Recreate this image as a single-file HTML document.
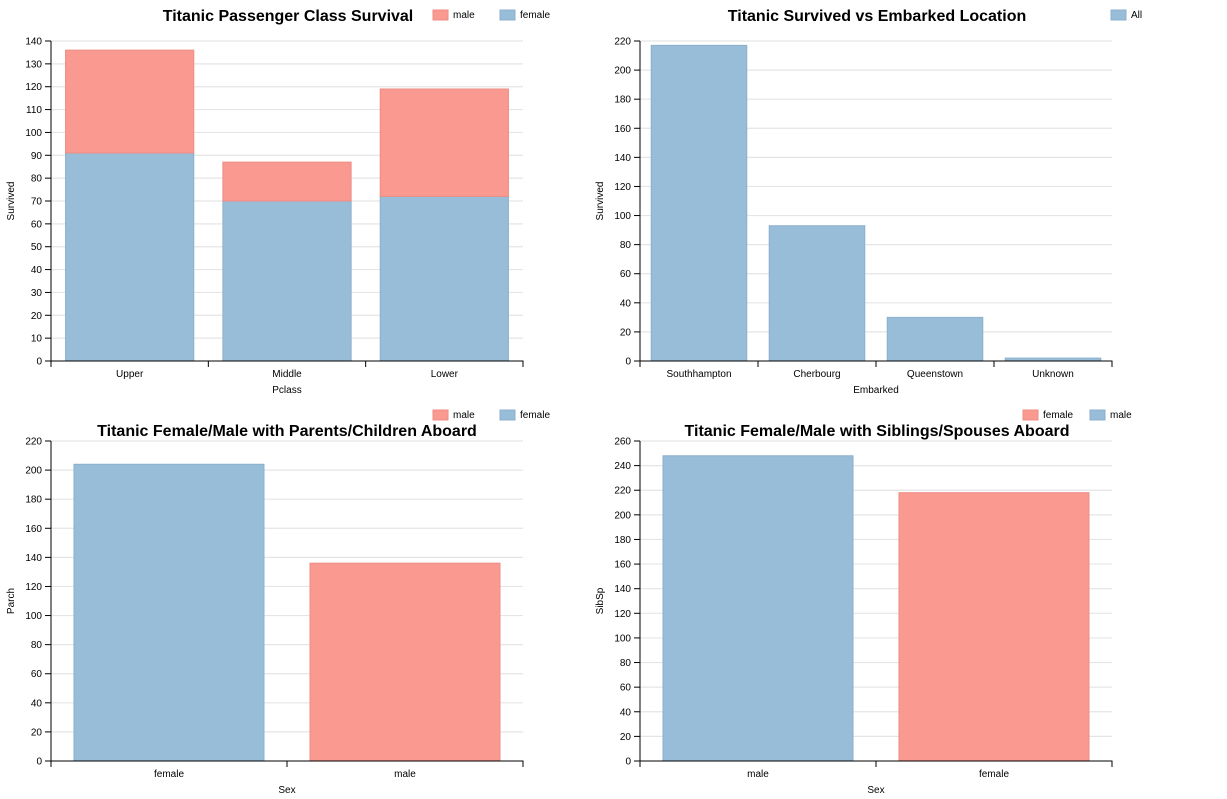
<!DOCTYPE html>
<html><head><meta charset="utf-8">
<style>
html,body{margin:0;padding:0;background:#fff;width:1227px;height:799px;overflow:hidden}
svg{font-family:"Liberation Sans",Arial,sans-serif;display:block}
.title{font-size:16px;font-weight:bold;fill:#000}
.axt{font-size:10px;fill:#000}
.leg{font-size:10px;fill:#000}
.grid{stroke:#e5e5e5;stroke-width:1.2}
.ax{stroke:#000;stroke-width:1;fill:none}
</style></head>
<body>
<svg id="svg" width="1227" height="799"></svg>
<script>
// Chart 1: Passenger class survival (stacked)
const c1Categories = ["Upper","Middle","Lower"];
const c1Female = [91,70,72];
const c1Male = [45,17,47];
const c1Ticks = [0,10,20,30,40,50,60,70,80,90,100,110,120,130,140];
// Chart 2: Embarked
const c2Categories = ["Southhampton","Cherbourg","Queenstown","Unknown"];
const c2Values = [217,93,30,2];
const c2Ticks = [0,20,40,60,80,100,120,140,160,180,200,220];
// Chart 3: Parch
const c3Categories = ["female","male"];
const c3Values = [204,136];
const c3Ticks = [0,20,40,60,80,100,120,140,160,180,200,220];
// Chart 4: SibSp
const c4Categories = ["male","female"];
const c4Values = [248,218];
const c4Ticks = [0,20,40,60,80,100,120,140,160,180,200,220,240,260];

const BLUE="#98bdd8", BLUES="#8cb0cc";
const PINK="#fa998f", PINKS="#ec8d84";
const NS="http://www.w3.org/2000/svg";
const svg=document.getElementById('svg');
function mk(tag,attrs,parent,text){const e=document.createElementNS(NS,tag);for(const k in attrs)e.setAttribute(k,attrs[k]);if(text!==undefined)e.textContent=text;parent.appendChild(e);return e;}

function chart(o){
  const g=mk('g',{},svg);
  
  
  const x0=o.x0,x1=o.x0+472,y0=o.y0,y1=o.y0+320;
  const ymax=o.ticks[o.ticks.length-1];
  const yS=v=>y1-v/ymax*(y1-y0);
  const step=(x1-x0)/o.cats.length;
  const bw=step*o.bwf, off=(step-bw)/2;
  o.ticks.forEach(t=>{
    if(t>0){const gl=mk('line',{x1:x0,x2:x1,y1:yS(t),y2:yS(t),class:'grid'},g);
    
    }
    mk('line',{x1:x0-6,x2:x0,y1:yS(t),y2:yS(t),stroke:'#000'},g);
    const tl=mk('text',{x:x0-9,y:yS(t)+3.5,'text-anchor':'end',class:'axt'},g,t);
    
    
  });
  o.series.forEach(s=>{
    o.cats.forEach((c,i)=>{
      const base=s.base?s.base[i]:0, v=s.vals[i];
      const pink=s.pinkIdx===i;
      const r=mk('rect',{x:x0+i*step+off,y:yS(base+v),width:bw,height:yS(base)-yS(base+v),fill:pink?PINK:s.fill,stroke:pink?PINKS:s.stroke,'stroke-width':1},g);
      
      
    });
  });
  mk('path',{d:`M${x0},${y0}V${y1}`,class:'ax'},g);
  mk('path',{d:`M${x0},${y1+6}V${y1}H${x1}V${y1+6}`,class:'ax'},g);
  o.cats.forEach((c,i)=>{
    if(i>0) mk('line',{x1:x0+i*step,x2:x0+i*step,y1:y1,y2:y1+6,stroke:'#000'},g);
    const xl=mk('text',{x:x0+i*step+step/2,y:y1+16,'text-anchor':'middle',class:'axt'},g,c);
    
    
  });
  const xt=mk('text',{x:(x0+x1)/2,y:y1+32,'text-anchor':'middle',class:'axt'},g,o.xlabel);
  
  
  const yt=mk('text',{x:0,y:0,'text-anchor':'middle',class:'axt',transform:`translate(${x0-37},${(y0+y1)/2}) rotate(-90)`},g,o.ylabel);
  
  
  const ti=mk('text',{x:o.tx,y:o.ty,'text-anchor':'middle',class:'title'},g,o.title);
  
  
  o.legend.forEach(l=>{
    const r=mk('rect',{x:l.x,y:o.ly-5,width:15,height:10,fill:l.fill,stroke:l.stroke},g);
    
    
    const t=mk('text',{x:l.x+20,y:o.ly+3,class:'leg',fill:l.tc||'#000'},g,l.label);
    
    
  });
}

chart({name:'class-survival-chart',x0:51,y0:41,cats:c1Categories,ticks:c1Ticks,bwf:0.815,
  series:[{key:'female',vals:c1Female,fill:BLUE,stroke:BLUES},{key:'male',vals:c1Male,base:c1Female,fill:PINK,stroke:PINKS}],
  xlabel:'Pclass',ylabel:'Survived',title:'Titanic Passenger Class Survival',tx:288,ty:21,ly:15,
  legend:[{x:433,label:'male',fill:PINK,stroke:PINKS},{x:500,label:'female',fill:BLUE,stroke:BLUES}]});
chart({name:'embarked-chart',x0:640,y0:41,cats:c2Categories,ticks:c2Ticks,bwf:0.81,
  series:[{key:'all',vals:c2Values,fill:BLUE,stroke:BLUES}],
  xlabel:'Embarked',ylabel:'Survived',title:'Titanic Survived vs Embarked Location',tx:877,ty:21,ly:15,
  legend:[{x:1111,label:'All',fill:BLUE,stroke:BLUES,tc:'#1f6fb5'}]});
chart({name:'parch-chart',x0:51,y0:441,cats:c3Categories,ticks:c3Ticks,bwf:0.805,
  series:[{key:'value',vals:c3Values,fill:BLUE,stroke:BLUES,pinkIdx:1}],
  xlabel:'Sex',ylabel:'Parch',title:'Titanic Female/Male with Parents/Children Aboard',tx:287,ty:436,ly:415,
  legend:[{x:433,label:'male',fill:PINK,stroke:PINKS},{x:500,label:'female',fill:BLUE,stroke:BLUES}]});
chart({name:'sibsp-chart',x0:640,y0:441,cats:c4Categories,ticks:c4Ticks,bwf:0.805,
  series:[{key:'value',vals:c4Values,fill:BLUE,stroke:BLUES,pinkIdx:1}],
  xlabel:'Sex',ylabel:'SibSp',title:'Titanic Female/Male with Siblings/Spouses Aboard',tx:877,ty:436,ly:415,
  legend:[{x:1023,label:'female',fill:PINK,stroke:PINKS},{x:1090,label:'male',fill:BLUE,stroke:BLUES}]});
</script>
</body></html>
